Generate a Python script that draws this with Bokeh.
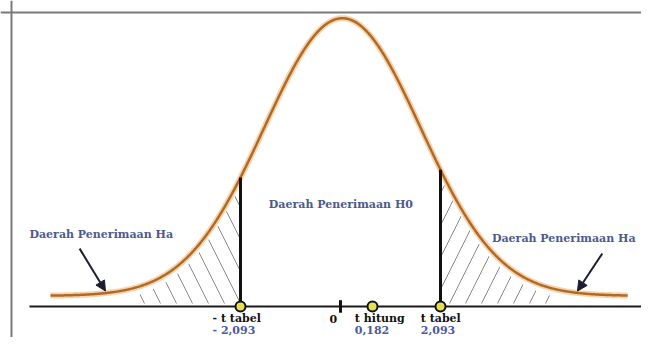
import numpy as np
from bokeh.plotting import figure
from bokeh.models import Range1d, Span, Arrow, NormalHead
from bokeh.core.properties import value
from bokeh.embed import file_html
from bokeh.resources import INLINE

# ---- data -------------------------------------------------------------
t_tabel = 2.093                       # critical value
t_hitung = 0.182                      # computed t (label)
marker_t = [-2.093, 0.67, 2.093]      # where the yellow markers sit in the picture
row1_text = ["- t tabel", "0", "t hitung", "t tabel"]
row2_text = ["- 2,093", "0,182", "2,093"]
region_text = ["Daerah Penerimaan Ha", "Daerah Penerimaan H0", "Daerah Penerimaan Ha"]

# bell-curve shape
curve_mu = 0.04
curve_sigma = 1.634
curve_base = 0.11
curve_amp = 2.88
curve_lo, curve_hi = -6.07, 6.01


def curve(x):
    x = np.asarray(x, dtype=float)
    return curve_base + curve_amp * np.exp(-0.5 * ((x - curve_mu) / curve_sigma) ** 2)


# ---- layout positions (not data) -------------------------------------
row1_x = [-2.679, -0.23, 0.30, 1.68]
row1_y = -0.130
row2_x = [-2.679, 0.30, 1.68]
row2_y = -0.246
region_x = [-6.51, -1.50, 3.17]
region_y = [0.75, 1.06, 0.71]

FONT = value("DejaVu Serif")
LABEL_BLUE = "#4d5a8c"
NUM_BLUE = "#4a5aa3"

p = figure(width=641, height=337, output_backend="svg", toolbar_location=None,
           x_range=Range1d(-7.116, 6.300), y_range=Range1d(-0.322, 3.174),
           x_axis_location=None, y_axis_location=None, min_border=0)
p.grid.visible = False
p.outline_line_color = None
p.background_fill_color = "white"
p.border_fill_color = "white"

# frame lines (top and left)
p.add_layout(Span(location=3.05, dimension="width", line_color="#7a7a7a", line_width=2))
p.add_layout(Span(location=-6.886, dimension="height", line_color="#7a7a7a", line_width=2))

# hatched rejection regions
tl = np.linspace(-4.2, -t_tabel, 120)
p.varea(x=tl, y1=0.03, y2=curve(tl) - 0.08, fill_color=None,
        hatch_pattern="\\", hatch_color="#6a6a6a", hatch_weight=0.8, hatch_scale=32)
tr = np.linspace(t_tabel, 4.4, 120)
p.varea(x=tr, y1=0.03, y2=curve(tr) - 0.08, fill_color=None,
        hatch_pattern="/", hatch_color="#6a6a6a", hatch_weight=0.8, hatch_scale=32)

# baseline
p.segment(x0=[-6.51], y0=[0], x1=[7.0], y1=[0], line_color="#1a1a1a", line_width=2)
# zero tick
p.segment(x0=[0], y0=[-0.065], x1=[0], y1=[0.065], line_color="#111111", line_width=3)

# curve with glow
tt = np.linspace(curve_lo, curve_hi, 700)
p.line(tt, curve(tt), line_color="#f5c896", line_width=6, line_alpha=0.8)
p.line(tt, curve(tt), line_color="#b06a28", line_width=2.5)

# critical vertical lines
crit = [-t_tabel, t_tabel]
p.segment(x0=crit, y0=[0, 0], x1=crit, y1=list(curve(crit)), line_color="#111111", line_width=3)

# markers
p.scatter(x=marker_t, y=[0] * len(marker_t), size=10, fill_color="#e8e04a",
          line_color="#111111", line_width=2)

# arrows
for xs, ys, xe, ye in [(-5.46, 0.60, -4.92, 0.16), (5.48, 0.55, 4.96, 0.16)]:
    p.add_layout(Arrow(end=NormalHead(size=10, fill_color="#1d1d33", line_color="#1d1d33"),
                       x_start=xs, y_start=ys, x_end=xe, y_end=ye,
                       line_width=2, line_color="#1d1d33"))

# texts
p.text(x=region_x, y=region_y, text=region_text, text_font=FONT, text_font_style="bold",
       text_font_size="11px", text_color=LABEL_BLUE, text_baseline="middle", text_align="left")
p.text(x=row1_x, y=[row1_y] * 4, text=row1_text, text_font=FONT, text_font_style="bold",
       text_font_size="11px", text_color="#111111", text_baseline="middle", text_align="left")
p.text(x=row2_x, y=[row2_y] * 3, text=row2_text, text_font=FONT, text_font_style="bold",
       text_font_size="11px", text_color=NUM_BLUE, text_baseline="middle", text_align="left")

open("out.html", "w").write(file_html(p, INLINE))
